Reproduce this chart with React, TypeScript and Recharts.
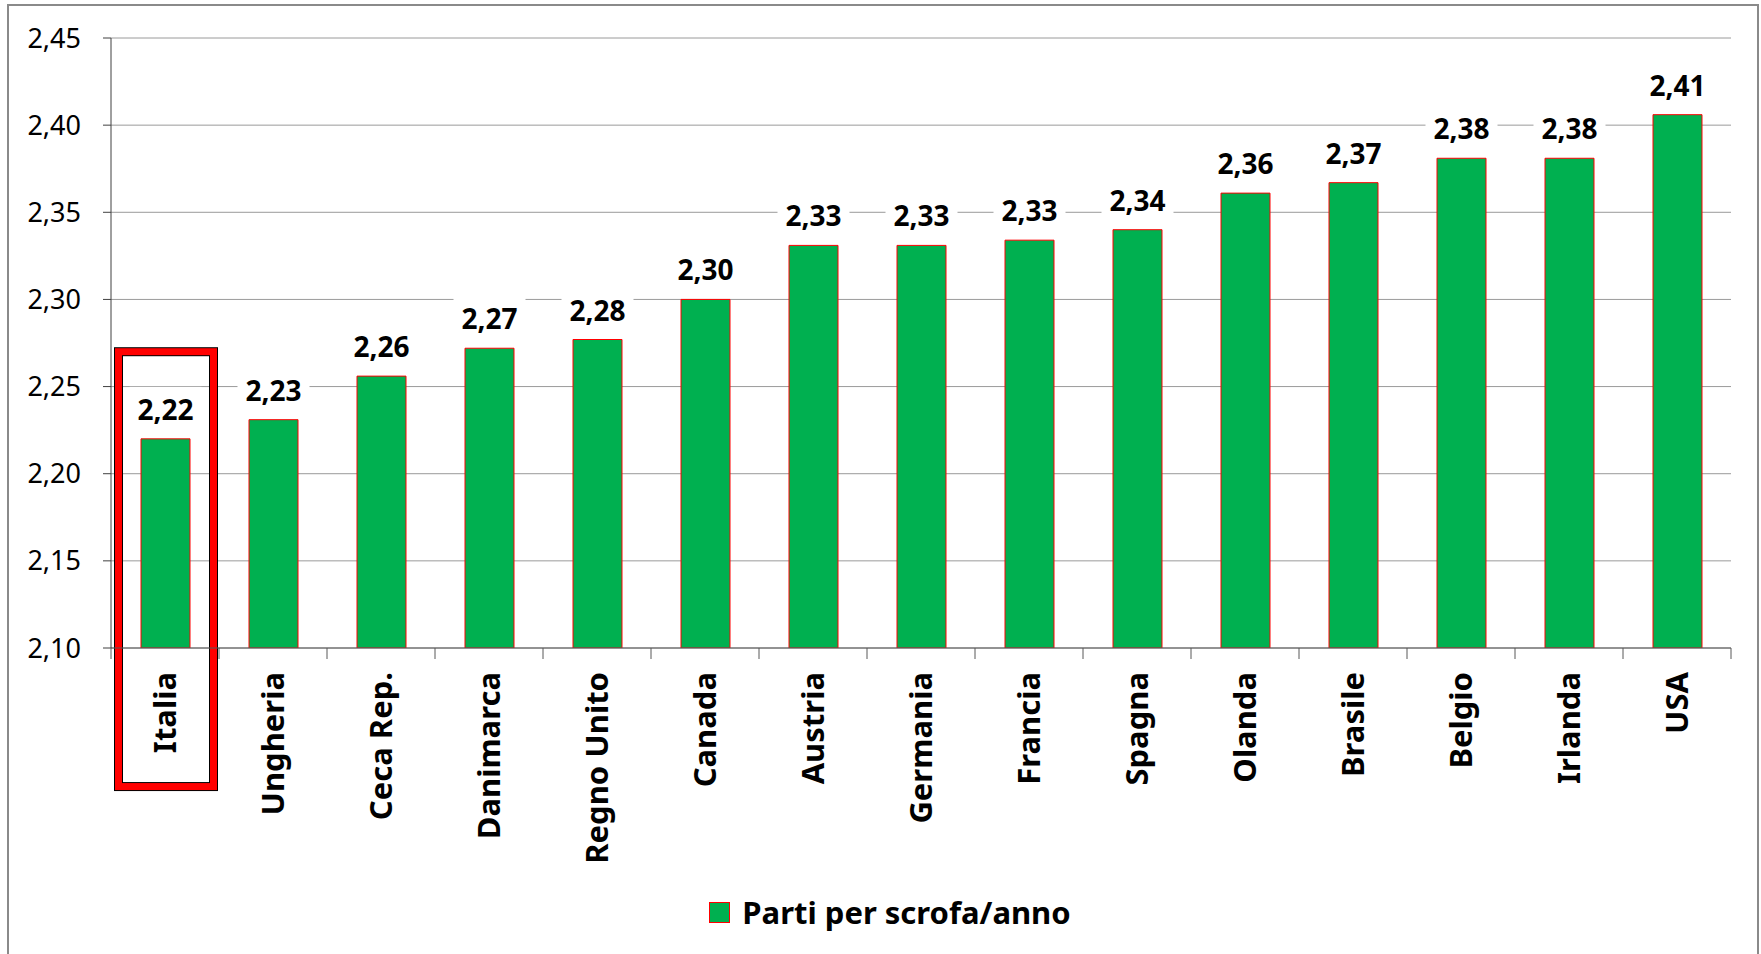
import React from 'react';
import { BarChart, Bar, XAxis, YAxis, CartesianGrid, Legend, LabelList, ReferenceArea } from 'recharts';

const countries = ['Italia', 'Ungheria', 'Ceca Rep.', 'Danimarca', 'Regno Unito', 'Canada', 'Austria', 'Germania', 'Francia', 'Spagna', 'Olanda', 'Brasile', 'Belgio', 'Irlanda', 'USA'];
const partiPerScrofa = [2.220, 2.231, 2.256, 2.272, 2.277, 2.300, 2.331, 2.331, 2.334, 2.340, 2.361, 2.367, 2.381, 2.381, 2.406];
const yTicks = [2.10, 2.15, 2.20, 2.25, 2.30, 2.35, 2.40, 2.45];
const seriesName = 'Parti per scrofa/anno';
const highlighted = 'Italia';
const highlightTop = 2.27;
const highlightBottom = 2.0205;

const data = countries.map((c, i) => ({ country: c, value: partiPerScrofa[i] }));

const fmt = (v: number) => v.toFixed(2).replace('.', ',');
const FONT = '"Noto Sans", "Open Sans", sans-serif';
const X_TICK_SIZE = 11;
const X_TICK_MARGIN = 13;

const CatTick = (props: any) => {
  const { x, y, payload, width, visibleTicksCount, index } = props;
  const half = Number(width) / Number(visibleTicksCount) / 2;
  const axisY = Number(y) - X_TICK_MARGIN - X_TICK_SIZE;
  const last = index === Number(visibleTicksCount) - 1;
  return (
    <g>
      <line x1={x - half} x2={x - half} y1={axisY} y2={axisY + X_TICK_SIZE} stroke="#595959" strokeWidth={1} />
      {last && <line x1={x + half} x2={x + half} y1={axisY} y2={axisY + X_TICK_SIZE} stroke="#595959" strokeWidth={1} />}
      <text
        x={x}
        y={y}
        dy="0.36em"
        textAnchor="end"
        transform={`rotate(-90, ${x}, ${y})`}
        fontFamily={FONT}
        fontWeight={700}
        fontSize={31}
        fill="#000"
      >
        {payload.value}
      </text>
    </g>
  );
};

const ValueLabel = (props: any) => {
  const { x, y, width, value } = props;
  const cx = Number(x) + Number(width) / 2;
  const by = Number(y) - 19;
  return (
    <g>
      <rect x={cx - 36} y={by - 33} width={72} height={42} fill="#fff" />
      <text x={cx} y={by} textAnchor="middle" fontFamily={FONT} fontWeight={700} fontSize={28} fill="#000">
        {fmt(Number(value))}
      </text>
    </g>
  );
};

const HighlightBox = (props: any) => {
  const { x, y, width, height } = props;
  const left = Number(x) + 7.5;
  const right = Number(x) + Number(width) - 5.5;
  const top = Number(y);
  const h = Number(height);
  return (
    <g>
      <rect x={left} y={top} width={right - left} height={h} fill="none" stroke="#000" strokeWidth={9} />
      <rect x={left} y={top} width={right - left} height={h} fill="none" stroke="#FF0000" strokeWidth={7} />
    </g>
  );
};

const LegendContent = (props: any) => {
  const p = props.payload && props.payload[0];
  const label = p ? p.value : seriesName;
  return (
    <div style={{ height: 60, display: 'flex', alignItems: 'center', justifyContent: 'center', paddingLeft: 49 }}>
      <span style={{ display: 'inline-block', width: 19, height: 19, background: '#00B050', border: '1px solid #FF0000' }} />
      <span style={{ marginLeft: 12, fontFamily: FONT, fontWeight: 700, fontSize: 31, color: '#000', lineHeight: '40px' }}>{label}</span>
    </div>
  );
};

export default function App() {
  return (
    <div style={{ position: 'absolute', left: 0, top: 0, width: 1761, height: 954, background: '#fff', overflow: 'hidden' }}>
      <div style={{ position: 'absolute', left: 7, top: 4, width: 1752, height: 980, border: '2px solid #8a8a8a', boxSizing: 'border-box' }} />
      <div style={{ position: 'absolute', left: 0, top: 0 }}>
        <BarChart width={1761} height={954} data={data} margin={{ top: 38, right: 30, bottom: 12, left: 0 }}>
          <CartesianGrid vertical={false} stroke="#9a9a9a" />
          <XAxis
            dataKey="country"
            height={234}
            interval={0}
            tickLine={false}
            tickSize={X_TICK_SIZE}
            tickMargin={X_TICK_MARGIN}
            axisLine={{ stroke: '#595959' }}
            tick={<CatTick />}
          />
          <YAxis
            domain={[2.1, 2.45]}
            ticks={yTicks}
            interval={0}
            width={111}
            tickSize={8}
            tickMargin={22}
            allowDataOverflow
            tickFormatter={fmt}
            axisLine={{ stroke: '#404040' }}
            tickLine={{ stroke: '#404040' }}
            tick={{ fontFamily: FONT, fontSize: 27, fill: '#000' }}
          />
          <Bar
            dataKey="value"
            name={seriesName}
            fill="#00B050"
            stroke="#FF0000"
            strokeWidth={1}
            barSize={49}
            isAnimationActive={false}
          >
            <LabelList dataKey="value" content={<ValueLabel />} />
          </Bar>
          <ReferenceArea
            x1={highlighted}
            x2={highlighted}
            y1={highlightBottom}
            y2={highlightTop}
            ifOverflow="visible"
            shape={<HighlightBox />}
          />
          <Legend verticalAlign="bottom" content={<LegendContent />} />
        </BarChart>
      </div>
    </div>
  );
}
